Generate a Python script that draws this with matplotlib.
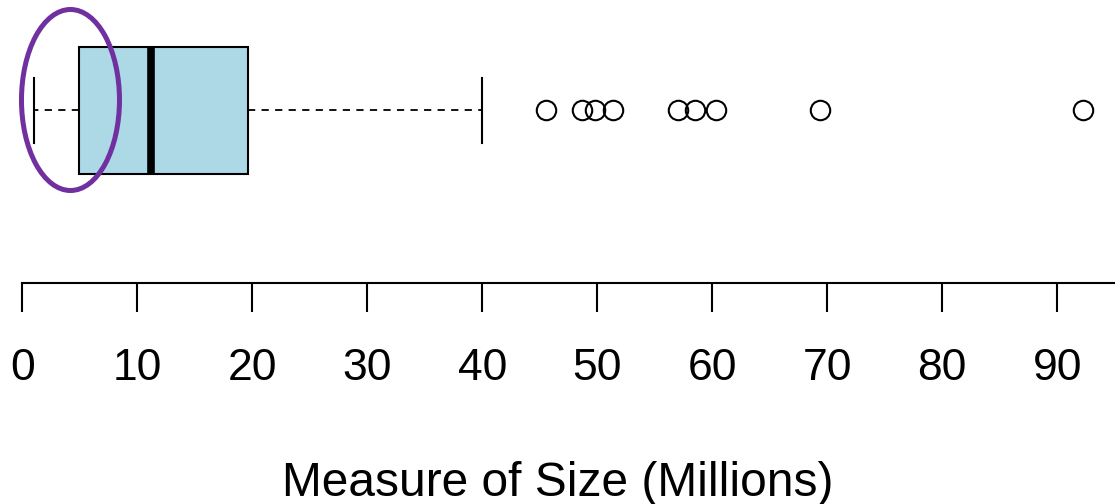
import matplotlib.pyplot as plt
from matplotlib.patches import Ellipse

plt.rcParams['font.family'] = ['Liberation Sans', 'DejaVu Sans']

# five-number summary (millions)
whisker_low = 1.0
q1 = 4.9
median = 11.2
q3 = 19.6
whisker_high = 40.0
outliers = [45.5, 48.7, 49.8, 51.4, 57.0, 58.5, 60.3, 69.4, 92.2]
ticks = [0, 10, 20, 30, 40, 50, 60, 70, 80, 90]

stats = [{'whislo': whisker_low, 'q1': q1, 'med': median, 'q3': q3,
          'whishi': whisker_high, 'fliers': outliers}]

fig = plt.figure(figsize=(11.15, 5.04), dpi=100)
ax = fig.add_axes([0, 221 / 504, 1, 283 / 504])

ax.bxp(stats, positions=[173], widths=127, capwidths=65,
       orientation='horizontal', patch_artist=True, showfliers=True,
       boxprops=dict(facecolor='#ADD8E6', edgecolor='black', lw=1.5),
       medianprops=dict(color='black', lw=5.5, solid_capstyle='butt'),
       whiskerprops=dict(color='black', lw=1.3, linestyle=(0, (4, 3.5))),
       capprops=dict(color='black', lw=1.5),
       flierprops=dict(marker='o', markersize=14, markerfacecolor='none',
                       markeredgecolor='black', markeredgewidth=1.5))

# purple highlight around the lower whisker
ax.add_patch(Ellipse((4.19, 183), width=98 / 11.5, height=181, fill=False,
                     edgecolor='#7030A0', lw=3.6, clip_on=False, zorder=5))

ax.set_yticks([])
ax.set_xticks(ticks)
ax.set_xticklabels([str(t) for t in ticks])
ax.set_xlim(-22.3 / 11.5, (1115 - 22.3) / 11.5)
ax.set_ylim(0, 283)
for s in ['top', 'left', 'right']:
    ax.spines[s].set_visible(False)
ax.spines['bottom'].set_bounds(0, 100)
ax.spines['bottom'].set_linewidth(1.5)
ax.tick_params(axis='x', direction='out', length=21, width=1.5,
               labelsize=32, pad=26)
ax.set_xlabel('Measure of Size (Millions)', fontsize=34.5, labelpad=52)
ax.patch.set_alpha(0)

fig.savefig('out.png', dpi=100)
